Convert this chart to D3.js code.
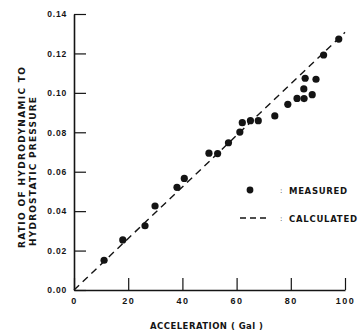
<!DOCTYPE html>
<html>
<head>
<meta charset="utf-8">
<script src="https://cdn.jsdelivr.net/npm/d3@7"></script>
<style>
  body { margin: 0; background: #fff; }
  svg { display: block; font-family: "DejaVu Sans", sans-serif; }
</style>
</head>
<body>
<figure id="scatter" style="margin:0"></figure>
<script>
// measured points: acceleration (Gal) and pressure ratio
const accel = [11.1, 18.0, 26.2, 29.9, 38.0, 40.7, 49.8, 53.0, 57.0, 61.2, 62.1, 65.1,
  68.0, 74.1, 78.9, 82.3, 84.9, 87.9, 84.8, 85.3, 89.3, 92.1, 97.7];
const ratio = [0.0151, 0.0254, 0.0326, 0.0426, 0.0521, 0.0566, 0.0694, 0.0692, 0.0747, 0.0801,
  0.0849, 0.0859, 0.0859, 0.0883, 0.0942, 0.0972, 0.0971, 0.0991, 0.1020, 0.1074, 0.1069,
  0.1192, 0.1273];
// calculated line
const calcX = [0, 100];
const calcY = [0, 0.1307];
const xTicks = [0, 20, 40, 60, 80, 100];
const yTicks = [0, 0.02, 0.04, 0.06, 0.08, 0.10, 0.12, 0.14];

const W = 364, H = 336;
const margin = { top: 14, right: 19, bottom: 46, left: 74 };
const width = W - margin.left - margin.right;
const height = H - margin.top - margin.bottom;
const ink = "#141414";

const svg = d3.select("figure#scatter")
  .append("svg")
  .attr("width", W)
  .attr("height", H);
const g = svg.append("g")
  .attr("transform", "translate(" + margin.left + "," + margin.top + ")");

const x = d3.scaleLinear().domain([0, 100]).range([0, width]);
const y = d3.scaleLinear().domain([0, 0.14]).range([height, 0]);

// X axis
const xAxis = g.append("g")
  .attr("transform", "translate(0," + height + ")")
  .call(d3.axisBottom(x).tickValues(xTicks).tickSizeInner(-12).tickSizeOuter(0).tickPadding(8));
// Y axis
const yAxis = g.append("g")
  .call(d3.axisLeft(y).tickValues(yTicks).tickFormat(d3.format(".2f"))
    .tickSizeInner(-12).tickSizeOuter(0).tickPadding(7));

[xAxis, yAxis].forEach(a => {
  a.select(".domain").attr("stroke", ink).attr("stroke-width", 1.6);
  a.selectAll(".tick line").attr("stroke", ink).attr("stroke-width", 1.2);
  a.selectAll(".tick text").attr("fill", ink).style("font-size", "8.5px")
    .style("font-weight", "bold").style("letter-spacing", "0.8px");
});
xAxis.selectAll(".tick text").style("font-size", "9px").style("letter-spacing", "1.5px");

// calculated dashed line
const calc = calcX.map((d, i) => [d, calcY[i]]);
g.append("path")
  .datum(calc)
  .attr("fill", "none")
  .attr("stroke", ink)
  .attr("stroke-width", 1.4)
  .attr("stroke-dasharray", "7,5")
  .attr("d", d3.line().x(d => x(d[0])).y(d => y(d[1])));

// measured dots
const pts = accel.map((d, i) => [d, ratio[i]]);
g.append("g").selectAll("circle")
  .data(pts)
  .enter()
  .append("circle")
  .attr("cx", d => x(d[0]))
  .attr("cy", d => y(d[1]))
  .attr("r", 3.6)
  .style("fill", ink);

// legend
const lg = svg.append("g");
lg.append("circle").attr("cx", 250).attr("cy", 190).attr("r", 3.4).style("fill", ink);
lg.append("line").attr("x1", 240).attr("x2", 267).attr("y1", 218).attr("y2", 218)
  .attr("stroke", ink).attr("stroke-width", 1.3).attr("stroke-dasharray", "6,4");
lg.selectAll("text.colon")
  .data([190, 218])
  .enter().append("text")
  .attr("class", "colon")
  .attr("x", 280).attr("y", d => d + 3)
  .style("font-size", "7px").attr("fill", ink)
  .text(":");
lg.selectAll("text.lab")
  .data([["MEASURED", 190, 58], ["CALCULATED", 218, 68]])
  .enter().append("text")
  .attr("class", "lab")
  .attr("x", 289).attr("y", d => d[1] + 3.5)
  .attr("textLength", d => d[2]).attr("lengthAdjust", "spacing")
  .style("font-size", "8.5px").style("font-weight", "bold").attr("fill", ink)
  .text(d => d[0]);

// axis titles
svg.append("text")
  .attr("x", 150).attr("y", 329)
  .attr("textLength", 113).attr("lengthAdjust", "spacing")
  .style("font-size", "8.5px").style("font-weight", "bold").attr("fill", ink)
  .text("ACCELERATION  ( Gal )");

svg.append("text")
  .attr("transform", "translate(25,248) rotate(-90)")
  .attr("textLength", 181).attr("lengthAdjust", "spacing")
  .style("font-size", "9px").style("font-weight", "bold").attr("fill", ink)
  .text("RATIO  OF  HYDRODYNAMIC  TO");
svg.append("text")
  .attr("transform", "translate(36,246) rotate(-90)")
  .attr("textLength", 149).attr("lengthAdjust", "spacing")
  .style("font-size", "9px").style("font-weight", "bold").attr("fill", ink)
  .text("HYDROSTATIC  PRESSURE");
</script>
</body>
</html>
